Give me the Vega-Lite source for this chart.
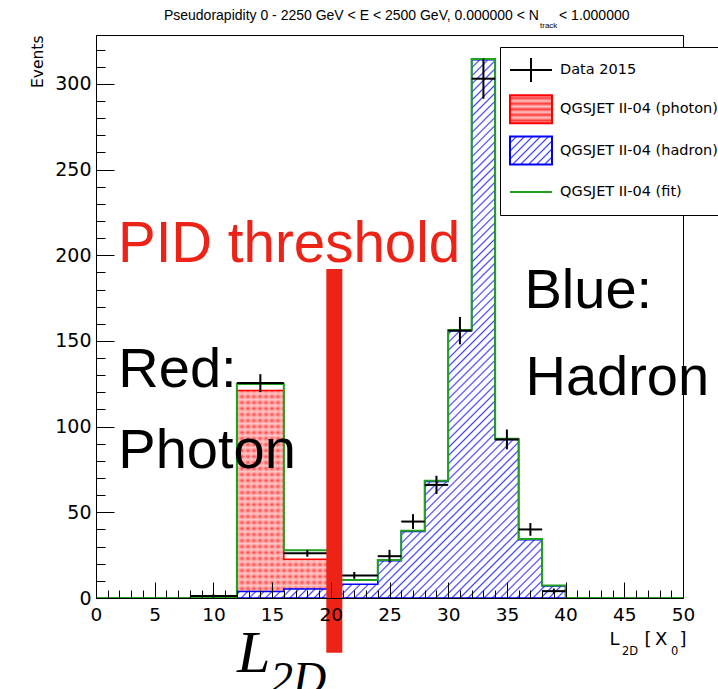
{
  "$schema": "https://vega.github.io/schema/vega-lite/v6.json",
  "width": 587,
  "height": 563,
  "autosize": {"type": "none"},
  "padding": {"left": 96, "top": 35, "right": 35, "bottom": 91},
  "background": "white",
  "config": {
    "view": {"stroke": "black", "strokeWidth": 1},
    "font": "DejaVu Sans",
    "axis": {"domainColor": "black", "tickColor": "black", "labelColor": "black", "titleColor": "black", "grid": false}
  },
  "datasets": {
    "photon": [
      {"x": 0, "y": 0}, {"x": 12, "y": 121}, {"x": 16, "y": 22.6}, {"x": 20, "y": 2.5}, {"x": 24, "y": 0}, {"x": 50, "y": 0}
    ],
    "hadron": [
      {"x": 0, "y": 0}, {"x": 12, "y": 3.8}, {"x": 16, "y": 5.3}, {"x": 20, "y": 8}, {"x": 24, "y": 21.8},
      {"x": 26, "y": 38.8}, {"x": 28, "y": 68}, {"x": 30, "y": 156}, {"x": 32, "y": 314}, {"x": 34, "y": 92.5},
      {"x": 36, "y": 34}, {"x": 38, "y": 7}, {"x": 40, "y": 0}, {"x": 50, "y": 0}
    ],
    "fit": [
      {"x": 0, "y": 0}, {"x": 12, "y": 124.8}, {"x": 16, "y": 27.9}, {"x": 20, "y": 10.5}, {"x": 24, "y": 22.2},
      {"x": 26, "y": 39.2}, {"x": 28, "y": 68.4}, {"x": 30, "y": 156.4}, {"x": 32, "y": 314.5}, {"x": 34, "y": 92.9},
      {"x": 36, "y": 34.4}, {"x": 38, "y": 7.3}, {"x": 40, "y": 0}, {"x": 50, "y": 0}
    ],
    "data2015": [
      {"lo": 8, "hi": 12, "mid": 10, "val": 1.2, "elo": 0.2, "ehi": 2.2},
      {"lo": 12, "hi": 16, "mid": 14, "val": 125.4, "elo": 120.2, "ehi": 130.6},
      {"lo": 16, "hi": 20, "mid": 18, "val": 26.1, "elo": 24.1, "ehi": 28.1},
      {"lo": 20, "hi": 24, "mid": 22, "val": 13.2, "elo": 11.2, "ehi": 15.2},
      {"lo": 24, "hi": 26, "mid": 25, "val": 24.4, "elo": 20.7, "ehi": 28.1},
      {"lo": 26, "hi": 28, "mid": 27, "val": 44.6, "elo": 40.3, "ehi": 48.9},
      {"lo": 28, "hi": 30, "mid": 29, "val": 66, "elo": 60.7, "ehi": 71.3},
      {"lo": 30, "hi": 32, "mid": 31, "val": 156, "elo": 148, "ehi": 164},
      {"lo": 32, "hi": 34, "mid": 33, "val": 303, "elo": 291.3, "ehi": 314.7},
      {"lo": 34, "hi": 36, "mid": 35, "val": 92.5, "elo": 86.7, "ehi": 98.3},
      {"lo": 36, "hi": 38, "mid": 37, "val": 40, "elo": 36.3, "ehi": 43.7},
      {"lo": 38, "hi": 40, "mid": 39, "val": 4, "elo": 2.5, "ehi": 5.5}
    ]
  },
  "layer": [
    {
      "data": {"name": "photon"},
      "mark": {
        "type": "area", "interpolate": "step-after", "opacity": 1,
        "fill": {
          "gradient": "linear", "x1": 0, "y1": 0, "x2": 0, "y2": 1,
          "stops": [
            {"offset": 0, "color": "#ff3c3c"}, {"offset": 0.0145, "color": "#ffc4c4"},
            {"offset": 0.0289, "color": "#ff3c3c"}, {"offset": 0.0434, "color": "#ffc4c4"},
            {"offset": 0.0579, "color": "#ff3c3c"}, {"offset": 0.0723, "color": "#ffc4c4"},
            {"offset": 0.0868, "color": "#ff3c3c"}, {"offset": 0.1013, "color": "#ffc4c4"},
            {"offset": 0.1157, "color": "#ff3c3c"}, {"offset": 0.1302, "color": "#ffc4c4"},
            {"offset": 0.1447, "color": "#ff3c3c"}, {"offset": 0.1591, "color": "#ffc4c4"},
            {"offset": 0.1736, "color": "#ff3c3c"}, {"offset": 0.1880, "color": "#ffc4c4"},
            {"offset": 0.2025, "color": "#ff3c3c"}, {"offset": 0.2170, "color": "#ffc4c4"},
            {"offset": 0.2314, "color": "#ff3c3c"}, {"offset": 0.2459, "color": "#ffc4c4"},
            {"offset": 0.2604, "color": "#ff3c3c"}, {"offset": 0.2748, "color": "#ffc4c4"},
            {"offset": 0.2893, "color": "#ff3c3c"}, {"offset": 0.3037, "color": "#ffc4c4"},
            {"offset": 0.3182, "color": "#ff3c3c"}, {"offset": 0.3327, "color": "#ffc4c4"},
            {"offset": 0.3472, "color": "#ff3c3c"}, {"offset": 0.3616, "color": "#ffc4c4"},
            {"offset": 0.3761, "color": "#ff3c3c"}, {"offset": 0.3905, "color": "#ffc4c4"},
            {"offset": 0.4050, "color": "#ff3c3c"}, {"offset": 0.4195, "color": "#ffc4c4"},
            {"offset": 0.4340, "color": "#ff3c3c"}, {"offset": 0.4484, "color": "#ffc4c4"},
            {"offset": 0.4629, "color": "#ff3c3c"}, {"offset": 0.4773, "color": "#ffc4c4"},
            {"offset": 0.4918, "color": "#ff3c3c"}, {"offset": 0.5063, "color": "#ffc4c4"},
            {"offset": 0.5207, "color": "#ff3c3c"}, {"offset": 0.5352, "color": "#ffc4c4"},
            {"offset": 0.5497, "color": "#ff3c3c"}, {"offset": 0.5641, "color": "#ffc4c4"},
            {"offset": 0.5786, "color": "#ff3c3c"}, {"offset": 0.5930, "color": "#ffc4c4"},
            {"offset": 0.6075, "color": "#ff3c3c"}, {"offset": 0.6220, "color": "#ffc4c4"},
            {"offset": 0.6365, "color": "#ff3c3c"}, {"offset": 0.6509, "color": "#ffc4c4"},
            {"offset": 0.6654, "color": "#ff3c3c"}, {"offset": 0.6798, "color": "#ffc4c4"},
            {"offset": 0.6943, "color": "#ff3c3c"}, {"offset": 0.7088, "color": "#ffc4c4"},
            {"offset": 0.7233, "color": "#ff3c3c"}, {"offset": 0.7377, "color": "#ffc4c4"},
            {"offset": 0.7522, "color": "#ff3c3c"}, {"offset": 0.7666, "color": "#ffc4c4"},
            {"offset": 0.7811, "color": "#ff3c3c"}, {"offset": 0.7956, "color": "#ffc4c4"},
            {"offset": 0.8100, "color": "#ff3c3c"}, {"offset": 0.8245, "color": "#ffc4c4"},
            {"offset": 0.8390, "color": "#ff3c3c"}, {"offset": 0.8534, "color": "#ffc4c4"},
            {"offset": 0.8679, "color": "#ff3c3c"}, {"offset": 0.8823, "color": "#ffc4c4"},
            {"offset": 0.8968, "color": "#ff3c3c"}, {"offset": 0.9113, "color": "#ffc4c4"},
            {"offset": 0.9258, "color": "#ff3c3c"}, {"offset": 0.9402, "color": "#ffc4c4"},
            {"offset": 0.9547, "color": "#ff3c3c"}, {"offset": 0.9691, "color": "#ffc4c4"},
            {"offset": 0.9836, "color": "#ff3c3c"}, {"offset": 0.9981, "color": "#ffc4c4"}
          ]
        }
      },
      "encoding": {
        "x": {
          "field": "x", "type": "quantitative",
          "scale": {"domain": [0, 50], "nice": false, "zero": false},
          "axis": {
            "title": null,
            "values": [0,1,2,3,4,5,6,7,8,9,10,11,12,13,14,15,16,17,18,19,20,21,22,23,24,25,26,27,28,29,30,31,32,33,34,35,36,37,38,39,40,41,42,43,44,45,46,47,48,49,50],
            "tickCount": 100,
            "format": "d",
            "tickSize": {"condition": {"test": "datum.value % 5 === 0", "value": -16}, "value": -8},
            "labelExpr": "datum.value % 5 === 0 ? datum.label : ''",
            "labelPadding": 23,
            "labelFontSize": 18.5,
            "labelFont": "DejaVu Sans",
            "labelFlush": false,
            "labelOverlap": false,
            "zindex": 1
          }
        },
        "y": {
          "field": "y", "type": "quantitative", "stack": null,
          "scale": {"domain": [0, 328.5], "nice": false},
          "axis": {
            "title": "Events",
            "titleAnchor": "end",
            "titleFont": "DejaVu Sans",
            "titleFontSize": 15.5,
            "titleFontWeight": "normal",
            "titlePadding": 9,
            "values": [0,10,20,30,40,50,60,70,80,90,100,110,120,130,140,150,160,170,180,190,200,210,220,230,240,250,260,270,280,290,300,310,320],
            "tickCount": 100,
            "format": "d",
            "tickSize": {"condition": {"test": "datum.value % 50 === 0", "value": -18}, "value": -9},
            "labelExpr": "datum.value % 50 === 0 ? datum.label : ''",
            "labelPadding": 23,
            "labelFontSize": 19,
            "labelFont": "DejaVu Sans",
            "labelFlush": false,
            "labelOverlap": false,
            "zindex": 1
          }
        }
      }
    },
    {
      "data": {"name": "photon"},
      "mark": {
        "type": "area", "interpolate": "step-after", "stroke": "red", "strokeWidth": 1.5, "opacity": 1,
        "fill": {
          "gradient": "linear", "x1": 0, "y1": 0, "x2": 1, "y2": 0,
          "stops": [
            {"offset": 0.2385, "color": "rgba(255,196,196,0)"}, {"offset": 0.2436, "color": "rgba(255,196,196,0.85)"},
            {"offset": 0.2487, "color": "rgba(255,196,196,0)"}, {"offset": 0.2538, "color": "rgba(255,196,196,0.85)"},
            {"offset": 0.2589, "color": "rgba(255,196,196,0)"}, {"offset": 0.2640, "color": "rgba(255,196,196,0.85)"},
            {"offset": 0.2692, "color": "rgba(255,196,196,0)"}, {"offset": 0.2743, "color": "rgba(255,196,196,0.85)"},
            {"offset": 0.2794, "color": "rgba(255,196,196,0)"}, {"offset": 0.2845, "color": "rgba(255,196,196,0.85)"},
            {"offset": 0.2896, "color": "rgba(255,196,196,0)"}, {"offset": 0.2947, "color": "rgba(255,196,196,0.85)"},
            {"offset": 0.2998, "color": "rgba(255,196,196,0)"}, {"offset": 0.3049, "color": "rgba(255,196,196,0.85)"},
            {"offset": 0.3100, "color": "rgba(255,196,196,0)"}, {"offset": 0.3151, "color": "rgba(255,196,196,0.85)"},
            {"offset": 0.3203, "color": "rgba(255,196,196,0)"}, {"offset": 0.3254, "color": "rgba(255,196,196,0.85)"},
            {"offset": 0.3305, "color": "rgba(255,196,196,0)"}, {"offset": 0.3356, "color": "rgba(255,196,196,0.85)"},
            {"offset": 0.3407, "color": "rgba(255,196,196,0)"}, {"offset": 0.3458, "color": "rgba(255,196,196,0.85)"},
            {"offset": 0.3509, "color": "rgba(255,196,196,0)"}, {"offset": 0.3560, "color": "rgba(255,196,196,0.85)"},
            {"offset": 0.3611, "color": "rgba(255,196,196,0)"}, {"offset": 0.3662, "color": "rgba(255,196,196,0.85)"},
            {"offset": 0.3714, "color": "rgba(255,196,196,0)"}, {"offset": 0.3765, "color": "rgba(255,196,196,0.85)"},
            {"offset": 0.3816, "color": "rgba(255,196,196,0)"}, {"offset": 0.3867, "color": "rgba(255,196,196,0.85)"},
            {"offset": 0.3918, "color": "rgba(255,196,196,0)"}, {"offset": 0.3969, "color": "rgba(255,196,196,0.85)"},
            {"offset": 0.4020, "color": "rgba(255,196,196,0)"}
          ]
        }
      },
      "encoding": {
        "x": {"field": "x", "type": "quantitative"},
        "y": {"field": "y", "type": "quantitative", "stack": null}
      }
    },
    {
      "data": {"name": "hadron"},
      "mark": {
        "type": "area", "interpolate": "step-after", "stroke": "blue", "strokeWidth": 1.5, "opacity": 1,
        "fill": {
          "gradient": "linear", "x1": 0, "y1": 0, "x2": 1.0414, "y2": 0.9548,
          "stops": [
            {"offset": 0.3280, "color": "#ffffff"}, {"offset": 0.3323, "color": "#ffffff"}, {"offset": 0.3338, "color": "#4040ff"},
            {"offset": 0.3352, "color": "#ffffff"}, {"offset": 0.3395, "color": "#ffffff"}, {"offset": 0.3410, "color": "#4040ff"},
            {"offset": 0.3424, "color": "#ffffff"}, {"offset": 0.3467, "color": "#ffffff"}, {"offset": 0.3482, "color": "#4040ff"},
            {"offset": 0.3496, "color": "#ffffff"}, {"offset": 0.3539, "color": "#ffffff"}, {"offset": 0.3554, "color": "#4040ff"},
            {"offset": 0.3568, "color": "#ffffff"}, {"offset": 0.3611, "color": "#ffffff"}, {"offset": 0.3626, "color": "#4040ff"},
            {"offset": 0.3640, "color": "#ffffff"}, {"offset": 0.3683, "color": "#ffffff"}, {"offset": 0.3698, "color": "#4040ff"},
            {"offset": 0.3712, "color": "#ffffff"}, {"offset": 0.3755, "color": "#ffffff"}, {"offset": 0.3770, "color": "#4040ff"},
            {"offset": 0.3784, "color": "#ffffff"}, {"offset": 0.3827, "color": "#ffffff"}, {"offset": 0.3842, "color": "#4040ff"},
            {"offset": 0.3856, "color": "#ffffff"}, {"offset": 0.3899, "color": "#ffffff"}, {"offset": 0.3914, "color": "#4040ff"},
            {"offset": 0.3928, "color": "#ffffff"}, {"offset": 0.3971, "color": "#ffffff"}, {"offset": 0.3986, "color": "#4040ff"},
            {"offset": 0.4000, "color": "#ffffff"}, {"offset": 0.4043, "color": "#ffffff"}, {"offset": 0.4058, "color": "#4040ff"},
            {"offset": 0.4072, "color": "#ffffff"}, {"offset": 0.4115, "color": "#ffffff"}, {"offset": 0.4130, "color": "#4040ff"},
            {"offset": 0.4144, "color": "#ffffff"}, {"offset": 0.4187, "color": "#ffffff"}, {"offset": 0.4202, "color": "#4040ff"},
            {"offset": 0.4216, "color": "#ffffff"}, {"offset": 0.4259, "color": "#ffffff"}, {"offset": 0.4274, "color": "#4040ff"},
            {"offset": 0.4288, "color": "#ffffff"}, {"offset": 0.4331, "color": "#ffffff"}, {"offset": 0.4346, "color": "#4040ff"},
            {"offset": 0.4360, "color": "#ffffff"}, {"offset": 0.4403, "color": "#ffffff"}, {"offset": 0.4418, "color": "#4040ff"},
            {"offset": 0.4432, "color": "#ffffff"}, {"offset": 0.4475, "color": "#ffffff"}, {"offset": 0.4490, "color": "#4040ff"},
            {"offset": 0.4504, "color": "#ffffff"}, {"offset": 0.4547, "color": "#ffffff"}, {"offset": 0.4562, "color": "#4040ff"},
            {"offset": 0.4576, "color": "#ffffff"}, {"offset": 0.4619, "color": "#ffffff"}, {"offset": 0.4634, "color": "#4040ff"},
            {"offset": 0.4648, "color": "#ffffff"}, {"offset": 0.4691, "color": "#ffffff"}, {"offset": 0.4706, "color": "#4040ff"},
            {"offset": 0.4720, "color": "#ffffff"}, {"offset": 0.4763, "color": "#ffffff"}, {"offset": 0.4778, "color": "#4040ff"},
            {"offset": 0.4792, "color": "#ffffff"}, {"offset": 0.4835, "color": "#ffffff"}, {"offset": 0.4850, "color": "#4040ff"},
            {"offset": 0.4864, "color": "#ffffff"}, {"offset": 0.4907, "color": "#ffffff"}, {"offset": 0.4922, "color": "#4040ff"},
            {"offset": 0.4936, "color": "#ffffff"}, {"offset": 0.4979, "color": "#ffffff"}, {"offset": 0.4994, "color": "#4040ff"},
            {"offset": 0.5008, "color": "#ffffff"}, {"offset": 0.5051, "color": "#ffffff"}, {"offset": 0.5066, "color": "#4040ff"},
            {"offset": 0.5080, "color": "#ffffff"}, {"offset": 0.5123, "color": "#ffffff"}, {"offset": 0.5138, "color": "#4040ff"},
            {"offset": 0.5152, "color": "#ffffff"}, {"offset": 0.5195, "color": "#ffffff"}, {"offset": 0.5210, "color": "#4040ff"},
            {"offset": 0.5224, "color": "#ffffff"}, {"offset": 0.5267, "color": "#ffffff"}, {"offset": 0.5282, "color": "#4040ff"},
            {"offset": 0.5296, "color": "#ffffff"}, {"offset": 0.5339, "color": "#ffffff"}, {"offset": 0.5354, "color": "#4040ff"},
            {"offset": 0.5368, "color": "#ffffff"}, {"offset": 0.5411, "color": "#ffffff"}, {"offset": 0.5426, "color": "#4040ff"},
            {"offset": 0.5440, "color": "#ffffff"}, {"offset": 0.5483, "color": "#ffffff"}, {"offset": 0.5498, "color": "#4040ff"},
            {"offset": 0.5512, "color": "#ffffff"}, {"offset": 0.5555, "color": "#ffffff"}, {"offset": 0.5570, "color": "#4040ff"},
            {"offset": 0.5584, "color": "#ffffff"}, {"offset": 0.5627, "color": "#ffffff"}, {"offset": 0.5642, "color": "#4040ff"},
            {"offset": 0.5656, "color": "#ffffff"}, {"offset": 0.5699, "color": "#ffffff"}, {"offset": 0.5714, "color": "#4040ff"},
            {"offset": 0.5728, "color": "#ffffff"}, {"offset": 0.5771, "color": "#ffffff"}, {"offset": 0.5786, "color": "#4040ff"},
            {"offset": 0.5800, "color": "#ffffff"}, {"offset": 0.5843, "color": "#ffffff"}, {"offset": 0.5858, "color": "#4040ff"},
            {"offset": 0.5872, "color": "#ffffff"}, {"offset": 0.5915, "color": "#ffffff"}, {"offset": 0.5930, "color": "#4040ff"},
            {"offset": 0.5944, "color": "#ffffff"}, {"offset": 0.5987, "color": "#ffffff"}, {"offset": 0.6002, "color": "#4040ff"},
            {"offset": 0.6016, "color": "#ffffff"}, {"offset": 0.6059, "color": "#ffffff"}, {"offset": 0.6074, "color": "#4040ff"},
            {"offset": 0.6088, "color": "#ffffff"}, {"offset": 0.6131, "color": "#ffffff"}, {"offset": 0.6146, "color": "#4040ff"},
            {"offset": 0.6160, "color": "#ffffff"}, {"offset": 0.6203, "color": "#ffffff"}, {"offset": 0.6218, "color": "#4040ff"},
            {"offset": 0.6232, "color": "#ffffff"}, {"offset": 0.6275, "color": "#ffffff"}, {"offset": 0.6290, "color": "#4040ff"},
            {"offset": 0.6304, "color": "#ffffff"}, {"offset": 0.6347, "color": "#ffffff"}, {"offset": 0.6362, "color": "#4040ff"},
            {"offset": 0.6376, "color": "#ffffff"}, {"offset": 0.6419, "color": "#ffffff"}, {"offset": 0.6434, "color": "#4040ff"},
            {"offset": 0.6448, "color": "#ffffff"}, {"offset": 0.6491, "color": "#ffffff"}, {"offset": 0.6506, "color": "#4040ff"},
            {"offset": 0.6520, "color": "#ffffff"}, {"offset": 0.6563, "color": "#ffffff"}, {"offset": 0.6578, "color": "#4040ff"},
            {"offset": 0.6592, "color": "#ffffff"}, {"offset": 0.6635, "color": "#ffffff"}, {"offset": 0.6650, "color": "#4040ff"},
            {"offset": 0.6664, "color": "#ffffff"}, {"offset": 0.6707, "color": "#ffffff"}, {"offset": 0.6722, "color": "#4040ff"},
            {"offset": 0.6736, "color": "#ffffff"}, {"offset": 0.6779, "color": "#ffffff"}, {"offset": 0.6794, "color": "#4040ff"},
            {"offset": 0.6808, "color": "#ffffff"}, {"offset": 0.6851, "color": "#ffffff"}, {"offset": 0.6866, "color": "#4040ff"},
            {"offset": 0.6880, "color": "#ffffff"}, {"offset": 0.6923, "color": "#ffffff"}, {"offset": 0.6938, "color": "#4040ff"},
            {"offset": 0.6952, "color": "#ffffff"}, {"offset": 0.6995, "color": "#ffffff"}, {"offset": 0.7010, "color": "#4040ff"},
            {"offset": 0.7024, "color": "#ffffff"}, {"offset": 0.7067, "color": "#ffffff"}, {"offset": 0.7082, "color": "#4040ff"},
            {"offset": 0.7096, "color": "#ffffff"}, {"offset": 0.7139, "color": "#ffffff"}, {"offset": 0.7154, "color": "#4040ff"},
            {"offset": 0.7168, "color": "#ffffff"}, {"offset": 0.7211, "color": "#ffffff"}, {"offset": 0.7226, "color": "#4040ff"},
            {"offset": 0.7240, "color": "#ffffff"}, {"offset": 0.7283, "color": "#ffffff"}, {"offset": 0.7298, "color": "#4040ff"},
            {"offset": 0.7312, "color": "#ffffff"}, {"offset": 0.7355, "color": "#ffffff"}, {"offset": 0.7370, "color": "#4040ff"},
            {"offset": 0.7384, "color": "#ffffff"}, {"offset": 0.7427, "color": "#ffffff"}, {"offset": 0.7442, "color": "#4040ff"},
            {"offset": 0.7456, "color": "#ffffff"}, {"offset": 0.7499, "color": "#ffffff"}, {"offset": 0.7514, "color": "#4040ff"},
            {"offset": 0.7528, "color": "#ffffff"}, {"offset": 0.7571, "color": "#ffffff"}, {"offset": 0.7586, "color": "#4040ff"},
            {"offset": 0.7600, "color": "#ffffff"}, {"offset": 0.7643, "color": "#ffffff"}, {"offset": 0.7658, "color": "#4040ff"},
            {"offset": 0.7672, "color": "#ffffff"}, {"offset": 0.7715, "color": "#ffffff"}, {"offset": 0.7730, "color": "#4040ff"},
            {"offset": 0.7744, "color": "#ffffff"}, {"offset": 0.7787, "color": "#ffffff"}, {"offset": 0.7802, "color": "#4040ff"},
            {"offset": 0.7816, "color": "#ffffff"}, {"offset": 0.7859, "color": "#ffffff"}, {"offset": 0.7874, "color": "#4040ff"},
            {"offset": 0.7888, "color": "#ffffff"}, {"offset": 0.7931, "color": "#ffffff"}, {"offset": 0.7946, "color": "#4040ff"},
            {"offset": 0.7960, "color": "#ffffff"}, {"offset": 0.8003, "color": "#ffffff"}, {"offset": 0.8018, "color": "#4040ff"},
            {"offset": 0.8032, "color": "#ffffff"}, {"offset": 0.8075, "color": "#ffffff"}, {"offset": 0.8090, "color": "#4040ff"},
            {"offset": 0.8104, "color": "#ffffff"}, {"offset": 0.8147, "color": "#ffffff"}, {"offset": 0.8162, "color": "#4040ff"},
            {"offset": 0.8176, "color": "#ffffff"}, {"offset": 0.8219, "color": "#ffffff"}, {"offset": 0.8234, "color": "#4040ff"},
            {"offset": 0.8248, "color": "#ffffff"}, {"offset": 0.8291, "color": "#ffffff"}, {"offset": 0.8306, "color": "#4040ff"},
            {"offset": 0.8320, "color": "#ffffff"}, {"offset": 0.8363, "color": "#ffffff"}, {"offset": 0.8378, "color": "#4040ff"},
            {"offset": 0.8392, "color": "#ffffff"}, {"offset": 0.8435, "color": "#ffffff"}, {"offset": 0.8450, "color": "#4040ff"},
            {"offset": 0.8464, "color": "#ffffff"}, {"offset": 0.8507, "color": "#ffffff"}, {"offset": 0.8522, "color": "#4040ff"},
            {"offset": 0.8536, "color": "#ffffff"}, {"offset": 0.8579, "color": "#ffffff"}, {"offset": 0.8594, "color": "#4040ff"},
            {"offset": 0.8608, "color": "#ffffff"}, {"offset": 0.8651, "color": "#ffffff"}, {"offset": 0.8666, "color": "#4040ff"},
            {"offset": 0.8680, "color": "#ffffff"}, {"offset": 0.8723, "color": "#ffffff"}, {"offset": 0.8738, "color": "#4040ff"},
            {"offset": 0.8752, "color": "#ffffff"}, {"offset": 0.8795, "color": "#ffffff"}, {"offset": 0.8810, "color": "#4040ff"},
            {"offset": 0.8824, "color": "#ffffff"}, {"offset": 0.8867, "color": "#ffffff"}, {"offset": 0.8882, "color": "#4040ff"},
            {"offset": 0.8896, "color": "#ffffff"}, {"offset": 0.8939, "color": "#ffffff"}, {"offset": 0.8954, "color": "#4040ff"},
            {"offset": 0.8968, "color": "#ffffff"}, {"offset": 0.9011, "color": "#ffffff"}, {"offset": 0.9026, "color": "#4040ff"},
            {"offset": 0.9040, "color": "#ffffff"}
          ]
        }
      },
      "encoding": {
        "x": {"field": "x", "type": "quantitative"},
        "y": {"field": "y", "type": "quantitative", "stack": null}
      }
    },
    {
      "data": {"name": "fit"},
      "mark": {"type": "line", "interpolate": "step-after", "strokeWidth": 2, "color": "#22a022"},
      "encoding": {
        "x": {"field": "x", "type": "quantitative"},
        "y": {"field": "y", "type": "quantitative"}
      }
    },
    {
      "data": {"name": "data2015"},
      "mark": {"type": "rule", "strokeWidth": 2, "color": "black"},
      "encoding": {
        "x": {"field": "lo", "type": "quantitative"},
        "x2": {"field": "hi"},
        "y": {"field": "val", "type": "quantitative"}
      }
    },
    {
      "data": {"name": "data2015"},
      "mark": {"type": "rule", "strokeWidth": 2, "color": "black"},
      "encoding": {
        "x": {"field": "mid", "type": "quantitative"},
        "y": {"field": "elo", "type": "quantitative"},
        "y2": {"field": "ehi"}
      }
    },
    {
      "data": {"name": "data2015"},
      "mark": {"type": "point", "size": 0, "opacity": 0},
      "encoding": {
        "x": {"field": "mid", "type": "quantitative"},
        "y": {"field": "val", "type": "quantitative"},
        "shape": {
          "datum": "Data 2015",
          "scale": {
            "domain": ["Data 2015", "QGSJET II-04 (photon)", "QGSJET II-04 (hadron)", "QGSJET II-04 (fit)"],
            "range": ["M-1.2,0H1.2M0,-0.686V0.686", "M-1.2,-0.8H1.2V0.8H-1.2Z", "M-1.2,-0.8H1.2V0.8H-1.2Z", "M-1.2,0H1.2M0,-0.8M0,0.8"]
          },
          "legend": {
            "orient": "none",
            "legendX": 404,
            "legendY": 12,
            "title": null,
            "fillColor": "white",
            "strokeColor": "black",
            "padding": 4.5,
            "symbolSize": 1225,
            "symbolStrokeWidth": 2,
            "symbolOpacity": 1,
            "symbolOffset": 8,
            "labelOffset": 10.5,
            "rowPadding": 4.3,
            "labelFont": "DejaVu Sans",
            "labelFontSize": 14.5,
            "labelColor": "black",
            "labelLimit": 400
          }
        },
        "fill": {
          "datum": "Data 2015",
          "scale": {
            "domain": ["Data 2015", "QGSJET II-04 (photon)", "QGSJET II-04 (hadron)", "QGSJET II-04 (fit)"],
            "range": [
              "transparent",
              {"expr": "{gradient: 'linear', x1: 0, y1: 0, x2: 0, y2: 1, stops: [{offset: 0, color: '#ffc4c4'}, {offset: 0.1, color: '#ff3c3c'}, {offset: 0.2, color: '#ffc4c4'}, {offset: 0.3, color: '#ff3c3c'}, {offset: 0.4, color: '#ffc4c4'}, {offset: 0.5, color: '#ff3c3c'}, {offset: 0.6, color: '#ffc4c4'}, {offset: 0.7, color: '#ff3c3c'}, {offset: 0.8, color: '#ffc4c4'}, {offset: 0.9, color: '#ff3c3c'}, {offset: 1, color: '#ffc4c4'}]}"},
              {"expr": "{gradient: 'linear', x1: 0, y1: 0, x2: 1.154, y2: 0.769, stops: [{offset: 0, color: '#ffffff'}, {offset: 0.0686, color: '#ffffff'}, {offset: 0.0914, color: '#4040ff'}, {offset: 0.1143, color: '#ffffff'}, {offset: 0.1829, color: '#ffffff'}, {offset: 0.2057, color: '#4040ff'}, {offset: 0.2286, color: '#ffffff'}, {offset: 0.2972, color: '#ffffff'}, {offset: 0.32, color: '#4040ff'}, {offset: 0.3429, color: '#ffffff'}, {offset: 0.4115, color: '#ffffff'}, {offset: 0.4343, color: '#4040ff'}, {offset: 0.4572, color: '#ffffff'}, {offset: 0.5258, color: '#ffffff'}, {offset: 0.5486, color: '#4040ff'}, {offset: 0.5715, color: '#ffffff'}, {offset: 0.6401, color: '#ffffff'}, {offset: 0.6629, color: '#4040ff'}, {offset: 0.6858, color: '#ffffff'}, {offset: 0.7544, color: '#ffffff'}, {offset: 0.7772, color: '#4040ff'}, {offset: 0.8001, color: '#ffffff'}, {offset: 0.8687, color: '#ffffff'}, {offset: 0.8915, color: '#4040ff'}, {offset: 0.9144, color: '#ffffff'}, {offset: 0.983, color: '#ffffff'}, {offset: 1, color: '#4040ff'}]}"},
              "transparent"
            ]
          }
        },
        "stroke": {
          "datum": "Data 2015",
          "scale": {
            "domain": ["Data 2015", "QGSJET II-04 (photon)", "QGSJET II-04 (hadron)", "QGSJET II-04 (fit)"],
            "range": ["black", "red", "blue", "#22a022"]
          }
        }
      }
    },
    {
      "data": {"values": [{"x": 20.3, "ylo": -32, "yhi": 192}]},
      "mark": {"type": "rule", "strokeWidth": 16, "color": "#ec2316", "strokeCap": "butt"},
      "encoding": {
        "x": {"field": "x", "type": "quantitative"},
        "y": {"field": "ylo", "type": "quantitative"},
        "y2": {"field": "yhi"}
      }
    },
    {
      "data": {"values": [
        {"t": "Red:", "x": 1.9, "y": 123.3},
        {"t": "Photon", "x": 1.9, "y": 75.7},
        {"t": "Blue:", "x": 36.5, "y": 169},
        {"t": "Hadron", "x": 36.58, "y": 118.4}
      ]},
      "mark": {"type": "text", "font": "Liberation Sans", "fontSize": 56, "align": "left", "baseline": "alphabetic", "color": "black"},
      "encoding": {
        "x": {"field": "x", "type": "quantitative"},
        "y": {"field": "y", "type": "quantitative"},
        "text": {"field": "t"}
      }
    },
    {
      "data": {"values": [{"t": "PID threshold", "x": 1.87, "y": 196}]},
      "mark": {"type": "text", "font": "Liberation Sans", "fontSize": 56.5, "align": "left", "baseline": "alphabetic", "color": "#ec2316"},
      "encoding": {
        "x": {"field": "x", "type": "quantitative"},
        "y": {"field": "y", "type": "quantitative"},
        "text": {"field": "t"}
      }
    },
    {
      "data": {"values": [{"t": "L", "x": 12.0, "y": -43}]},
      "mark": {"type": "text", "font": "Liberation Serif", "fontStyle": "italic", "fontSize": 60, "align": "left", "baseline": "alphabetic", "color": "black"},
      "encoding": {
        "x": {"field": "x", "type": "quantitative"},
        "y": {"field": "y", "type": "quantitative"},
        "text": {"field": "t"}
      }
    },
    {
      "data": {"values": [{"t": "2D", "x": 14.82, "y": -56}]},
      "mark": {"type": "text", "font": "Liberation Serif", "fontStyle": "italic", "fontSize": 46, "align": "left", "baseline": "alphabetic", "color": "black"},
      "encoding": {
        "x": {"field": "x", "type": "quantitative"},
        "y": {"field": "y", "type": "quantitative"},
        "text": {"field": "t"}
      }
    },
    {
      "data": {"values": [
        {"t": "L", "x": 43.74, "y": -27.4},
        {"t": "[", "x": 46.72, "y": -27.4},
        {"t": "X", "x": 47.61, "y": -27.4},
        {"t": "]", "x": 49.7, "y": -27.4}
      ]},
      "mark": {"type": "text", "font": "DejaVu Sans", "fontSize": 18, "align": "left", "baseline": "alphabetic", "color": "black"},
      "encoding": {
        "x": {"field": "x", "type": "quantitative"},
        "y": {"field": "y", "type": "quantitative"},
        "text": {"field": "t"}
      }
    },
    {
      "data": {"values": [
        {"t": "2D", "x": 44.8, "y": -33.3},
        {"t": "0", "x": 48.98, "y": -33.3}
      ]},
      "mark": {"type": "text", "font": "DejaVu Sans", "fontSize": 11.5, "align": "left", "baseline": "alphabetic", "color": "black"},
      "encoding": {
        "x": {"field": "x", "type": "quantitative"},
        "y": {"field": "y", "type": "quantitative"},
        "text": {"field": "t"}
      }
    },
    {
      "data": {"values": [{"t": "Pseudorapidity 0 - 2250 GeV < E < 2500 GeV, 0.000000 < N", "x": 37.73, "y": 337.3}]},
      "mark": {"type": "text", "font": "Liberation Sans", "fontSize": 14, "align": "right", "baseline": "alphabetic", "color": "black"},
      "encoding": {
        "x": {"field": "x", "type": "quantitative"},
        "y": {"field": "y", "type": "quantitative"},
        "text": {"field": "t"}
      }
    },
    {
      "data": {"values": [{"t": "< 1.000000", "x": 39.44, "y": 337.3}]},
      "mark": {"type": "text", "font": "Liberation Sans", "fontSize": 14, "align": "left", "baseline": "alphabetic", "color": "black"},
      "encoding": {
        "x": {"field": "x", "type": "quantitative"},
        "y": {"field": "y", "type": "quantitative"},
        "text": {"field": "t"}
      }
    },
    {
      "data": {"values": [{"t": "track", "x": 37.82, "y": 332.6}]},
      "mark": {"type": "text", "font": "Liberation Sans", "fontSize": 8, "align": "left", "baseline": "alphabetic", "color": "black"},
      "encoding": {
        "x": {"field": "x", "type": "quantitative"},
        "y": {"field": "y", "type": "quantitative"},
        "text": {"field": "t"}
      }
    }
  ]
}
